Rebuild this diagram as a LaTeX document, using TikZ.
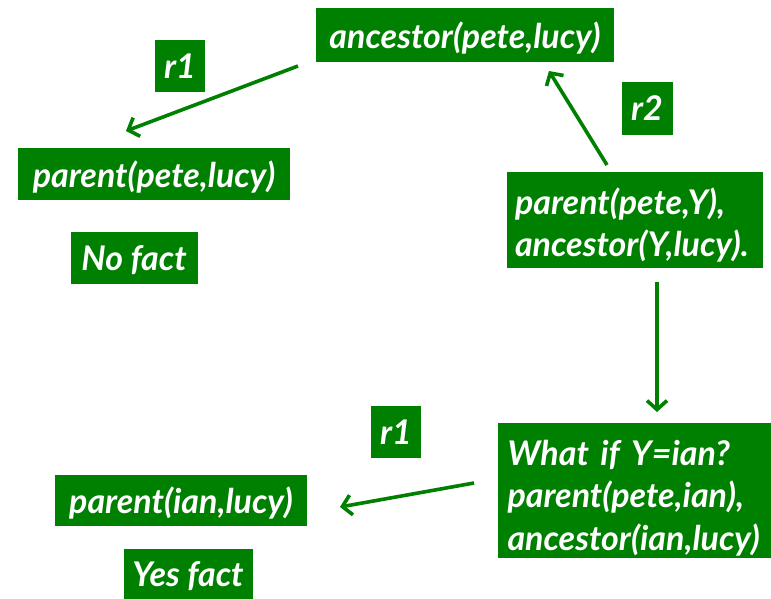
\documentclass[tikz,border=0pt]{standalone}
\usepackage{fontspec}
\setmainfont{Lato}
\usepackage{tikz}
\usetikzlibrary{arrows,arrows.meta,positioning}
\definecolor{boxgreen}{RGB}{0,128,0}

\begin{document}
\begin{tikzpicture}[x=1pt,y=-1pt]
\tikzset{green box/.style={
    fill=boxgreen,
    text=white,
    font=\fontsize{34}{42.5}\selectfont\bfseries\itshape,
    inner sep=0pt,
    anchor=center
  },
  one line/.style={green box, text depth=0pt},
  green arrow/.style={
    draw=boxgreen,
    line width=3.6pt,
    -{Straight Barb[length=9pt,width=20pt]}
  }
}
\useasboundingbox (0,0) rectangle (771,598);

% goal and rule labels
\node[one line, minimum width=298pt, minimum height=54pt] (anc) at (465,35) {ancestor(pete,lucy)};
\node[one line, minimum width=50pt, minimum height=52pt] (rtop) at (180,66) {r1};
\node[one line, minimum width=51pt, minimum height=53pt] (rtwo) at (647,108) {r2};
\node[one line, minimum width=50pt, minimum height=52pt] (rbot) at (396,432) {r1};

% first branch
\node[one line, minimum width=272pt, minimum height=52pt] (pp) at (154,174) {parent(pete,lucy)};
\node[one line, minimum width=127pt, minimum height=52pt] (nofact) at (134,258) {No fact};

% second branch
\node[green box, minimum width=256pt, minimum height=96pt, align=left, text width=240pt] (body) at (635,220)
  {\rule{0pt}{37pt}parent(pete,Y),\\ancestor(Y,lucy).};
\node[green box, minimum width=273pt, minimum height=135pt, align=left, text width=253pt] (ian) at (634,490)
  {\rule{0pt}{41pt}What if Y=ian?\\parent(pete,ian),\\ancestor(ian,lucy)};
\node[one line, minimum width=252pt, minimum height=51pt] (pi) at (181,500) {parent(ian,lucy)};
\node[one line, minimum width=129pt, minimum height=50pt] (yesfact) at (188,574) {Yes fact};

% arrow ends
\coordinate (a1s) at (298,66);
\coordinate (a1e) at (126,131);
\coordinate (a2s) at (607,165);
\coordinate (a2e) at (549,71);
\coordinate (a3s) at (657,282);
\coordinate (a3e) at (657,412);
\coordinate (a4s) at (474,483);
\coordinate (a4e) at (340,507);

\draw[green arrow] (a1s) -- (a1e);
\draw[green arrow] (a2s) -- (a2e);
\draw[green arrow] (a3s) -- (a3e);
\draw[green arrow] (a4s) -- (a4e);

\end{tikzpicture}
\end{document}
